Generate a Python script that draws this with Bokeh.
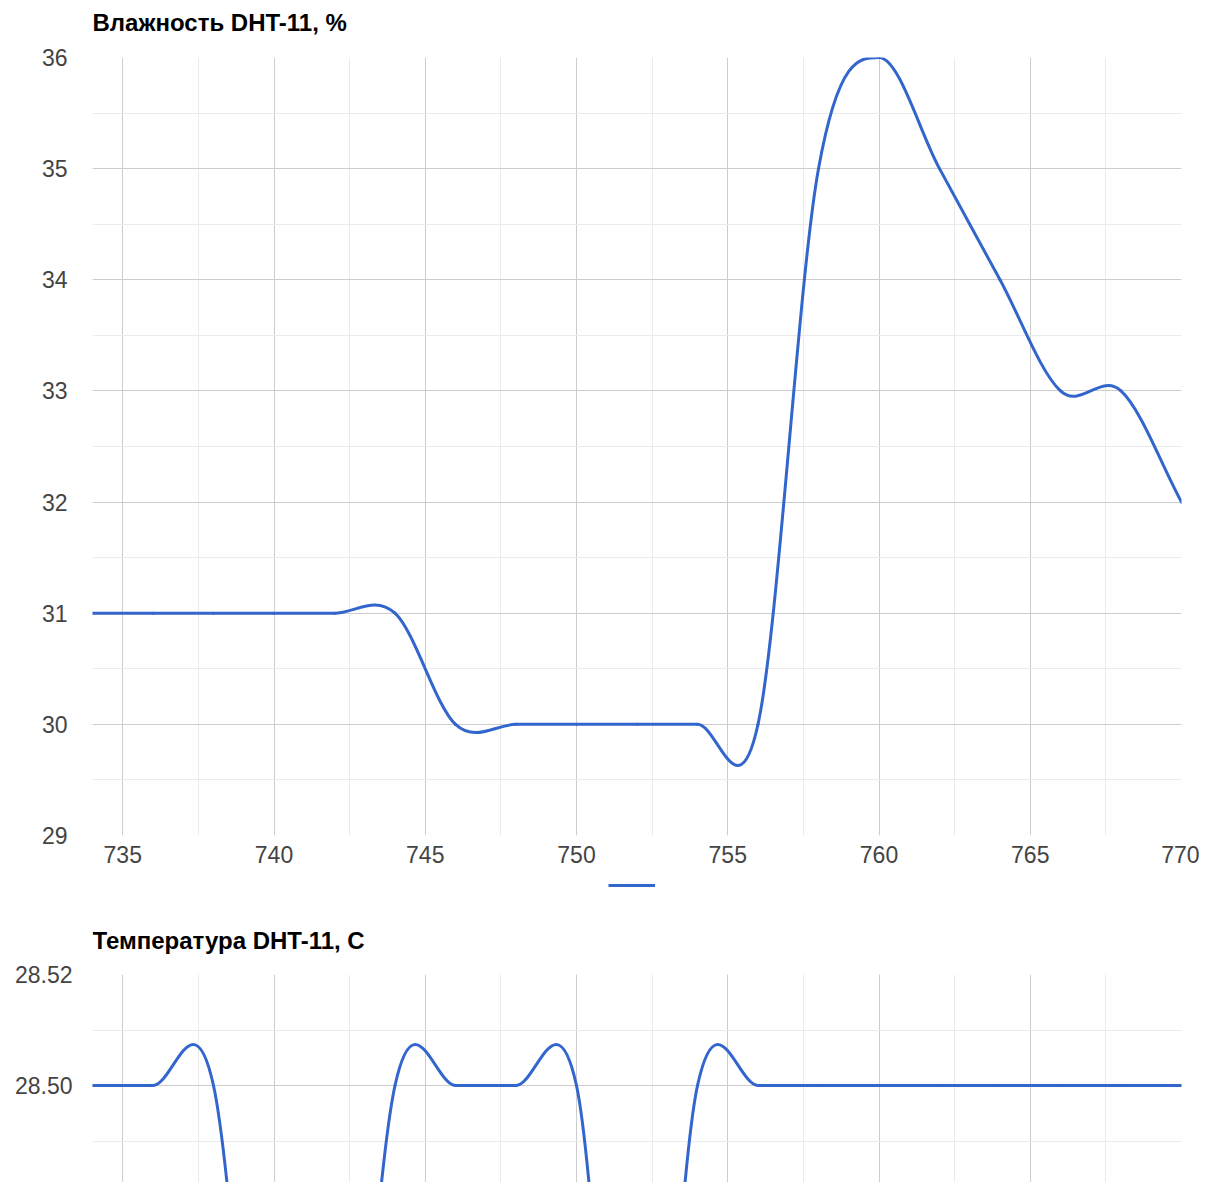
import numpy as np
from bokeh.plotting import figure
from bokeh.layouts import column
from bokeh.models import FixedTicker, Range1d, Legend, LegendItem, PrintfTickFormatter, Label
from bokeh.embed import file_html
from bokeh.resources import INLINE

# ---- data ----
x_vals = [734, 736, 738, 740, 742, 744, 746, 748, 750, 752,
          754, 756, 758, 760, 762, 764, 766, 768, 770]
humidity = [31, 31, 31, 31, 31, 31, 30, 30, 30, 30,
            30, 30, 35, 36, 35, 34, 33, 33, 32]
temperature = [28.5, 28.5, 28.5, 28.4, 28.4, 28.5, 28.5, 28.5, 28.5, 28.4,
               28.5, 28.5, 28.5, 28.5, 28.5, 28.5, 28.5, 28.5, 28.5]

x_ticks = [735, 740, 745, 750, 755, 760, 765, 770]
x_minor = [737.5, 742.5, 747.5, 752.5, 757.5, 762.5, 767.5]
hum_ticks = [29, 30, 31, 32, 33, 34, 35, 36]
hum_minor = [29.5, 30.5, 31.5, 32.5, 33.5, 34.5, 35.5]
temp_ticks = [28.48, 28.50, 28.52]
temp_minor = [28.49, 28.51]

title_hum = "Влажность DHT-11, %"
title_temp = "Температура DHT-11, C"

BLUE = "#3366cc"
FONT = "Liberation Sans"
W = 1199
LEFT = 92
RIGHT = 18


def smooth_segments(xs, ys):
    """Cubic (Catmull-Rom style) bezier control points through the data points."""
    xs = np.asarray(xs, float)
    ys = np.asarray(ys, float)
    m = np.empty_like(ys)
    m[1:-1] = (ys[2:] - ys[:-2]) / (xs[2:] - xs[:-2])
    m[0] = (ys[1] - ys[0]) / (xs[1] - xs[0])
    m[-1] = (ys[-1] - ys[-2]) / (xs[-1] - xs[-2])
    h = np.diff(xs)
    return dict(x0=xs[:-1], y0=ys[:-1], x1=xs[1:], y1=ys[1:],
                cx0=xs[:-1] + h / 3, cy0=ys[:-1] + m[:-1] * h / 3,
                cx1=xs[1:] - h / 3, cy1=ys[1:] - m[1:] * h / 3)


def strip(height, xr=(0, 1), yr=(0, 1)):
    s = figure(width=W, height=height, x_range=Range1d(*xr), y_range=Range1d(*yr),
               output_backend="svg", toolbar_location=None,
               min_border_left=LEFT, min_border_right=RIGHT,
               min_border_top=0, min_border_bottom=0)
    s.axis.visible = False
    s.grid.visible = False
    s.outline_line_color = None
    return s


def title_strip(height, text, y_from_bottom):
    s = strip(height)
    s.add_layout(Label(x=0, y=y_from_bottom, x_units="screen", y_units="screen",
                       text=text, text_font=FONT, text_font_size="24px",
                       text_font_style="bold", text_color="#000000",
                       text_align="left", text_baseline="middle"))
    return s


def style(p, yt, ym, standoff):
    p.outline_line_color = None
    p.background_fill_color = "white"
    p.border_fill_color = "white"
    for ax in p.axis:
        ax.axis_line_color = None
        ax.major_tick_line_color = None
        ax.minor_tick_line_color = None
        ax.major_label_text_font = FONT
        ax.major_label_text_font_size = "23px"
        ax.major_label_text_color = "#444444"
    p.xaxis.ticker = FixedTicker(ticks=x_ticks, minor_ticks=x_minor)
    p.yaxis.ticker = FixedTicker(ticks=yt, minor_ticks=ym)
    p.yaxis.major_label_standoff = standoff
    p.xaxis.major_label_standoff = 4
    p.xgrid.ticker = FixedTicker(ticks=x_ticks, minor_ticks=x_minor)
    p.ygrid.ticker = FixedTicker(ticks=yt, minor_ticks=ym)
    for g in (p.xgrid, p.ygrid):
        g.grid_line_color = "#cccccc"
        g.grid_line_width = 1
        g.minor_grid_line_color = "#ebebeb"
        g.minor_grid_line_width = 1


# ---- humidity chart ----
t1 = title_strip(40, title_hum, 18)
p1 = figure(width=W, height=830,
            x_range=Range1d(734, 770), y_range=Range1d(29, 36),
            output_backend="svg", toolbar_location=None,
            min_border_left=LEFT, min_border_right=RIGHT,
            min_border_top=17, min_border_bottom=35)
style(p1, hum_ticks, hum_minor, 19)
p1.bezier(line_color=BLUE, line_width=3, line_cap="round",
          **smooth_segments(x_vals, humidity))

# ---- legend strip (Google-style legend under the chart) ----
# the series itself lies outside this strip's ranges; only its legend sample shows
pl = strip(35, xr=(0, 1), yr=(0, 1))
proxy = pl.line(x_vals, humidity, line_color=BLUE, line_width=3)
legend = Legend(items=[LegendItem(label=" ", renderers=[proxy])],
                location=(516, 14), orientation="horizontal",
                glyph_width=47, glyph_height=12, label_width=1,
                label_standoff=0, label_text_font_size="12px",
                padding=0, spacing=0, margin=0,
                border_line_alpha=0, background_fill_alpha=0)
pl.add_layout(legend)

# ---- temperature chart ----
t2 = title_strip(50, title_temp, 15)
p2 = figure(width=W, height=227,
            x_range=Range1d(734, 770), y_range=Range1d(28.52 - 0.02 * 208 / 111, 28.52),
            output_backend="svg", toolbar_location=None,
            min_border_left=LEFT, min_border_right=RIGHT,
            min_border_top=19, min_border_bottom=0)
style(p2, temp_ticks, temp_minor, 14)
p2.yaxis.formatter = PrintfTickFormatter(format="%.2f")
p2.xaxis.visible = False
p2.bezier(line_color=BLUE, line_width=3, line_cap="round",
          **smooth_segments(x_vals, temperature))

layout = column(t1, p1, pl, t2, p2, spacing=0)
open("out.html", "w").write(file_html(layout, INLINE))
